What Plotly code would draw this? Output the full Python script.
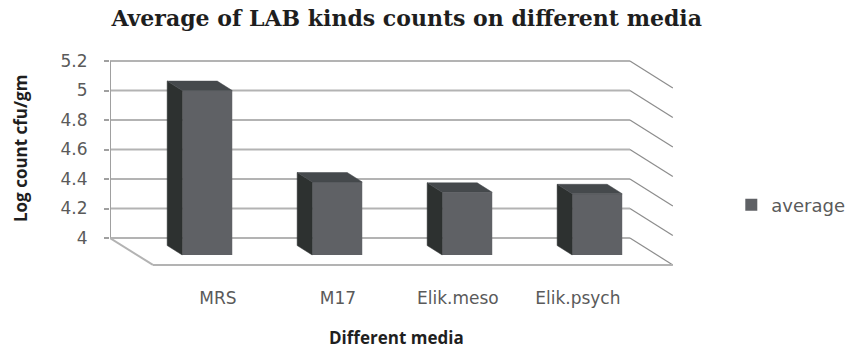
import plotly.graph_objects as go

# ---------------- data ----------------
categories = ["MRS", "M17", "Elik.meso", "Elik.psych"]
average = [5.0, 4.38, 4.31, 4.30]
y_ticks = [4.0, 4.2, 4.4, 4.6, 4.8, 5.0, 5.2]
y_tick_text = ["4", "4.2", "4.4", "4.6", "4.8", "5", "5.2"]
series_name = "average"

# ---------------- pseudo-3D geometry (style) ----------------
DX, DY = 0.33, 0.183          # depth offset of the chart box (x units, value units)
D_BACK, D_FRONT = 0.28, 0.63  # depth span of the columns (0 = back wall, 1 = front)
BAR_W = 0.385
BAR_SHIFT = 0.04
Y_MIN, Y_MAX = y_ticks[0], y_ticks[-1]
X_LO, X_HI = -0.5, len(categories) - 0.5

FRONT_C = "#5f6165"
SIDE_C = "#2d3130"
TOP_C = "#45494c"
GRID_C = "#b3b3b3"
DIAG_C = "#8c8c8c"
TEXT_C = "#5a5a5a"

fig = go.Figure()

shapes = []
# back wall gridlines and side-wall diagonals
for t in y_ticks:
    shapes.append(dict(type="line", xref="x", yref="y", x0=X_LO, x1=X_HI, y0=t, y1=t,
                       line=dict(color=GRID_C, width=2), layer="below"))
    shapes.append(dict(type="line", xref="x", yref="y", x0=X_HI, x1=X_HI + DX,
                       y0=t, y1=t - DY, line=dict(color=DIAG_C, width=1.2), layer="below"))
# value axis line
shapes.append(dict(type="line", xref="x", yref="y", x0=X_LO, x1=X_LO, y0=Y_MIN, y1=Y_MAX,
                   line=dict(color="#a0a0a0", width=2), layer="below"))
# floor outline
shapes.append(dict(type="line", xref="x", yref="y", x0=X_LO, x1=X_LO + DX,
                   y0=Y_MIN, y1=Y_MIN - DY, line=dict(color=GRID_C, width=2), layer="below"))
shapes.append(dict(type="line", xref="x", yref="y", x0=X_LO + DX, x1=X_HI + DX,
                   y0=Y_MIN - DY, y1=Y_MIN - DY, line=dict(color=GRID_C, width=2), layer="below"))

# columns
floor_f = Y_MIN - D_FRONT * DY
floor_b = Y_MIN - D_BACK * DY
ddx = (D_FRONT - D_BACK) * DX
ddy = (D_FRONT - D_BACK) * DY
xs_front = [i + BAR_SHIFT + D_FRONT * DX for i in range(len(categories))]

for xc, v in zip(xs_front, average):
    xl, xr = xc - BAR_W / 2, xc + BAR_W / 2
    # left side face
    fig.add_trace(go.Scatter(x=[xl, xl, xl - ddx, xl - ddx, xl],
                             y=[v, floor_f, floor_b, v + ddy, v],
                             mode="lines", fill="toself", fillcolor=SIDE_C,
                             line=dict(color=SIDE_C, width=0.5),
                             hoverinfo="skip", showlegend=False))
    # top face
    fig.add_trace(go.Scatter(x=[xl, xr, xr - ddx, xl - ddx, xl],
                             y=[v, v, v + ddy, v + ddy, v],
                             mode="lines", fill="toself", fillcolor=TOP_C,
                             line=dict(color=TOP_C, width=0.5),
                             hoverinfo="skip", showlegend=False))

# front faces (the series itself)
fig.add_trace(go.Bar(x=xs_front, y=[v - floor_f for v in average], base=floor_f,
                     width=BAR_W, name=series_name,
                     marker=dict(color=FRONT_C, line=dict(width=0)),
                     hoverinfo="skip", showlegend=True))

LABEL_START, LABEL_STEP = 0.33, 0.923
label_pos = [LABEL_START + LABEL_STEP * i for i in range(len(categories))]

W, H = 849, 351
fig.update_layout(
    width=W, height=H,
    margin=dict(l=110, r=169, t=55, b=76, autoexpand=False),
    paper_bgcolor="white", plot_bgcolor="white",
    font=dict(family="DejaVu Sans", color=TEXT_C, size=16),
    shapes=shapes,
    title=dict(text="<b>Average of LAB kinds counts on different media</b>",
               font=dict(family="DejaVu Serif", size=22, color="#1e1e1e"),
               x=0.479, xanchor="center", y=0.948, yanchor="middle", yref="container"),
    xaxis=dict(range=[X_LO, X_HI + DX + 0.055], tickvals=label_pos, ticktext=categories,
               showgrid=False, zeroline=False, showline=False, ticks="",
               ticklabelstandoff=11, tickfont=dict(family="DejaVu Sans", size=17, color=TEXT_C)),
    yaxis=dict(range=[3.749, 5.241], tickvals=y_ticks, ticktext=y_tick_text,
               showgrid=False, zeroline=False, showline=False,
               ticks="outside", ticklen=5, tickwidth=1.5, tickcolor="#a0a0a0",
               ticklabelstandoff=13, tickfont=dict(family="DejaVu Sans", size=17, color=TEXT_C)),
    legend=dict(x=1.09, y=0.318, xanchor="left", yanchor="middle",
                font=dict(family="DejaVu Sans", size=18, color=TEXT_C),
                bgcolor="rgba(0,0,0,0)"),
    showlegend=True,
    annotations=[
        dict(text="<b>Different media</b>", xref="paper", yref="paper",
             x=0.5035, y=-0.286, xanchor="center", yanchor="middle", showarrow=False,
             font=dict(family="Open Sans", size=17, color="#1f1f1f")),
        dict(text="<b>Log count cfu/gm</b>", xref="paper", yref="paper",
             x=-0.157, y=0.575, xanchor="center", yanchor="middle", showarrow=False,
             textangle=-90, font=dict(family="Open Sans", size=17, color="#1f1f1f")),
    ],
)

fig.write_html("out.html")
